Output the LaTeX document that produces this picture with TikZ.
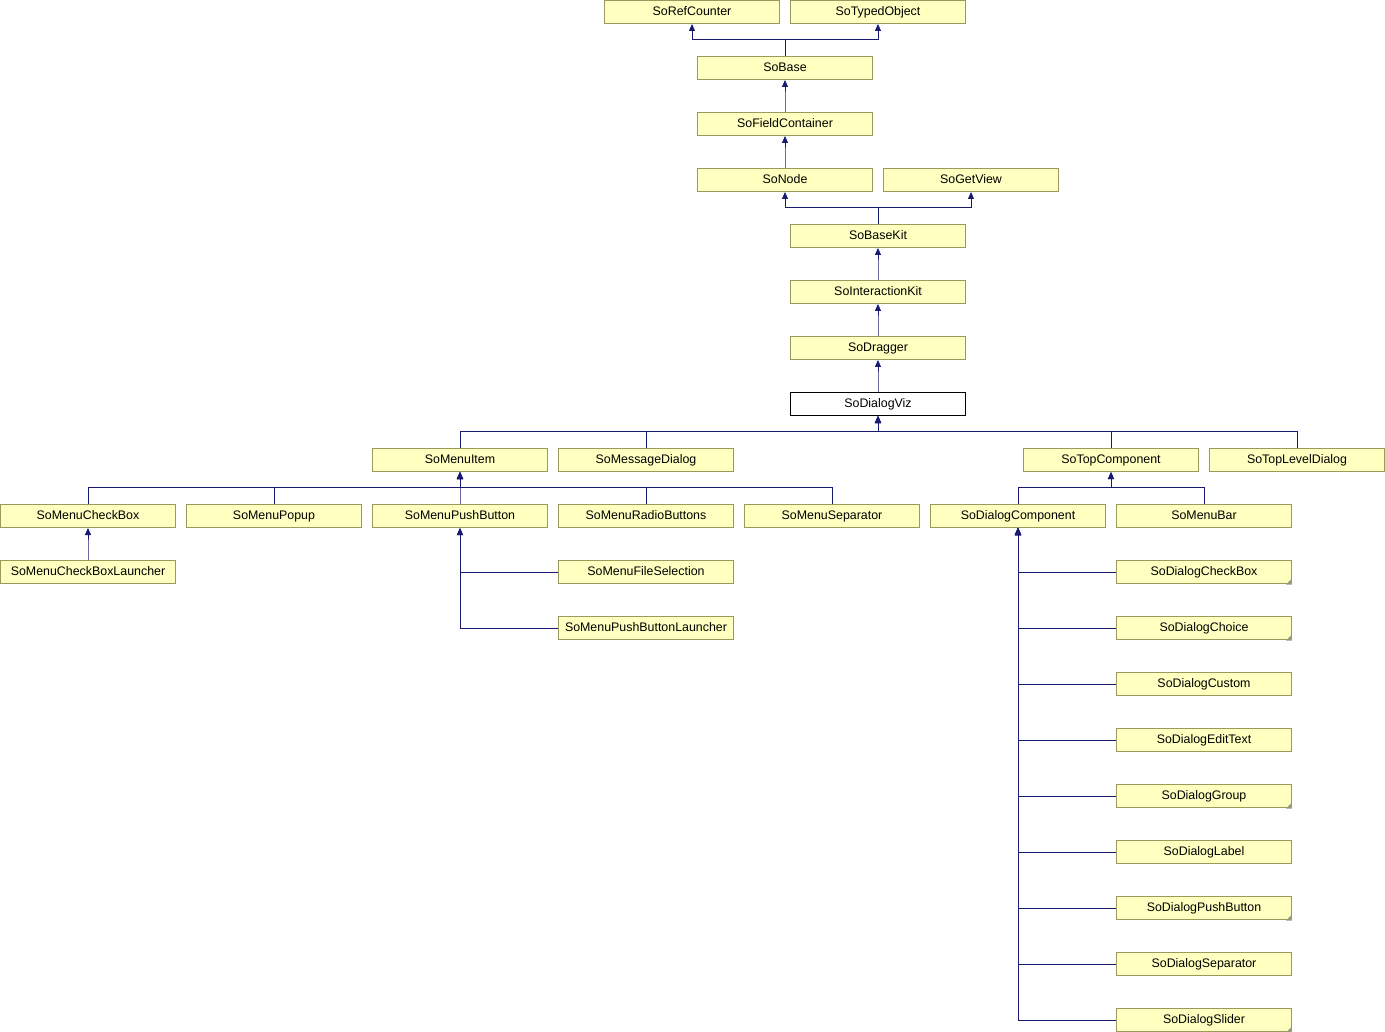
\documentclass[tikz,border=0pt]{standalone}
\usepackage{fontspec}
\setmainfont{Liberation Sans}
\usetikzlibrary{arrows.meta}
\definecolor{boxfill}{HTML}{FFFFC0}
\definecolor{boxline}{HTML}{9A9A5A}
\definecolor{edgec}{HTML}{191970}
\definecolor{foldc}{HTML}{9A9A7A}
\tikzset{
  cls/.style={draw=boxline, fill=boxfill, line width=1pt, minimum width=175.5pt, minimum height=23pt, inner sep=0pt, text height=9pt, text depth=2.5pt, font=\fontsize{12.4}{14}\selectfont},
  cur/.style={cls, draw=black, fill=white},
  edge/.style={draw=edgec, line width=1pt, -{Triangle[length=7pt,width=6pt]}},
}
\newcommand\foldmark[1]{\fill[foldc] ([xshift=-0.5pt,yshift=-0.5pt]#1.south east) -- ++(-6,0) -- ++(6,-6) -- cycle;}
\begin{document}
\begin{tikzpicture}[x=1pt,y=-1pt]
\useasboundingbox (0,0) rectangle (1385,1032);
% rows: cy = 12 + 56 n
\node[cls] (refc) at (692,12) {SoRefCounter};
\node[cls] (typed) at (878,12) {SoTypedObject};
\node[cls] (base) at (785,68) {SoBase};
\node[cls] (fc) at (785,124) {SoFieldContainer};
\node[cls] (node) at (785,180) {SoNode};
\node[cls] (getview) at (971,180) {SoGetView};
\node[cls] (basekit) at (878,236) {SoBaseKit};
\node[cls] (ikit) at (878,292) {SoInteractionKit};
\node[cls] (dragger) at (878,348) {SoDragger};
\node[cur] (viz) at (878,404) {SoDialogViz};
\node[cls] (menuitem) at (460,460) {SoMenuItem};
\node[cls] (msgdlg) at (646,460) {SoMessageDialog};
\node[cls] (topcomp) at (1111,460) {SoTopComponent};
\node[cls] (toplevel) at (1297,460) {SoTopLevelDialog};
\node[cls] (mcheck) at (88,516) {SoMenuCheckBox};
\node[cls] (mpopup) at (274,516) {SoMenuPopup};
\node[cls] (mpush) at (460,516) {SoMenuPushButton};
\node[cls] (mradio) at (646,516) {SoMenuRadioButtons};
\node[cls] (msep) at (832,516) {SoMenuSeparator};
\node[cls] (dcomp) at (1018,516) {SoDialogComponent};
\node[cls] (mbar) at (1204,516) {SoMenuBar};
\node[cls] (mcheckl) at (88,572) {SoMenuCheckBoxLauncher};
\node[cls] (mfile) at (646,572) {SoMenuFileSelection};
\node[cls] (mpushl) at (646,628) {SoMenuPushButtonLauncher};
\node[cls] (dcheck) at (1204,572) {SoDialogCheckBox};
\node[cls] (dchoice) at (1204,628) {SoDialogChoice};
\node[cls] (dcustom) at (1204,684) {SoDialogCustom};
\node[cls] (dedit) at (1204,740) {SoDialogEditText};
\node[cls] (dgroup) at (1204,796) {SoDialogGroup};
\node[cls] (dlabel) at (1204,852) {SoDialogLabel};
\node[cls] (dpush) at (1204,908) {SoDialogPushButton};
\node[cls] (dsep) at (1204,964) {SoDialogSeparator};
\node[cls] (dslider) at (1204,1020) {SoDialogSlider};
\foldmark{dcheck}
\foldmark{dchoice}
\foldmark{dgroup}
\foldmark{dpush}
\foldmark{dslider}
% inheritance edges
\foreach \c/\p in {base/refc, base/typed, fc/base, node/fc, basekit/node, basekit/getview,
  ikit/basekit, dragger/ikit, viz/dragger,
  menuitem/viz, msgdlg/viz, topcomp/viz, toplevel/viz,
  mcheck/menuitem, mpopup/menuitem, mpush/menuitem, mradio/menuitem, msep/menuitem,
  dcomp/topcomp, mbar/topcomp, mcheckl/mcheck}
  \draw[edge] (\c.north) -- ++(0,-16.5) -| (\p.south);
\foreach \c/\p in {mfile/mpush, mpushl/mpush,
  dcheck/dcomp, dchoice/dcomp, dcustom/dcomp, dedit/dcomp, dgroup/dcomp,
  dlabel/dcomp, dpush/dcomp, dsep/dcomp, dslider/dcomp}
  \draw[edge] (\c.west) -| (\p.south);
\end{tikzpicture}
\end{document}
